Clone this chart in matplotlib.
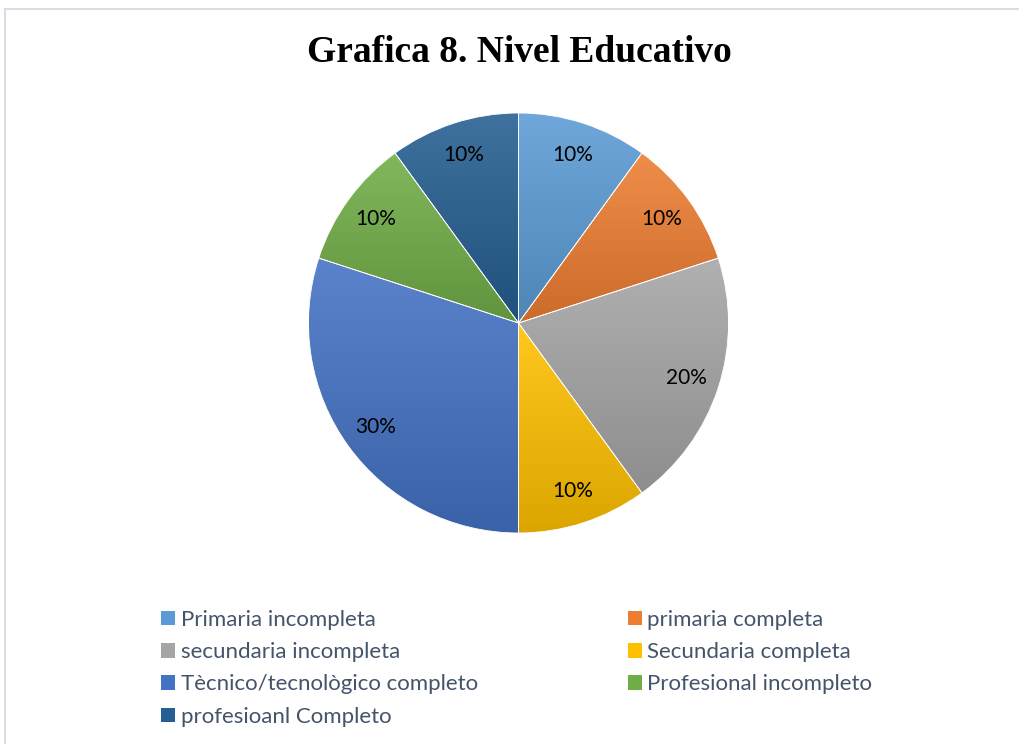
import numpy as np
import matplotlib.pyplot as plt
from matplotlib.colors import to_rgb
from matplotlib.lines import Line2D

TITLE = "Grafica 8. Nivel Educativo"
CATEGORIES = [
    "Primaria incompleta",
    "primaria completa",
    "secundaria incompleta",
    "Secundaria completa",
    "Tècnico/tecnològico completo",
    "Profesional incompleto",
    "profesioanl Completo",
]
SHARES = [10, 10, 20, 10, 30, 10, 10]
COLORS = ["#5B9BD5", "#ED7D31", "#A5A5A5", "#FFC000", "#4472C4", "#70AD47", "#255E91"]

W, H = 1019, 744
fig = plt.figure(figsize=(W / 100, H / 100), dpi=100)

# light frame: only top and left edges are visible in the crop
frame = dict(color="#D9DDE6", linewidth=1.5, transform=fig.transFigure)
fig.add_artist(Line2D([5 / W, 1.0], [1 - 9 / H] * 2, **frame))
fig.add_artist(Line2D([5 / W] * 2, [0.0, 1 - 9 / H], **frame))

fig.text(519 / W, 1 - 52 / H, TITLE, ha="center", va="center",
         fontsize=27, fontweight="bold", family="Liberation Serif")

cx, cy, r = 518.5, 323, 210
ax = fig.add_axes([(cx - r) / W, (H - cy - r) / H, 2 * r / W, 2 * r / H])
wedges, _, autotexts = ax.pie(
    SHARES, colors=COLORS, startangle=90, counterclock=False,
    autopct="%1.0f%%", pctdistance=0.84, radius=1,
    wedgeprops=dict(edgecolor="white", linewidth=0.6),
    textprops=dict(fontsize=15, color="black", family="Lato"),
)

# soft top-to-bottom shading inside each slice, like the office gradient style
for w, c in zip(wedges, COLORS):
    base = np.array(to_rgb(c))
    top = base + (1 - base) * 0.12
    bottom = base * 0.86
    t = np.linspace(0, 1, 64)[:, None]
    grad = (top[None, :] * (1 - t) + bottom[None, :] * t)[:, None, :]
    bb = w.get_path().get_extents(w.get_patch_transform())
    im = ax.imshow(grad, extent=(bb.x0, bb.x1, bb.y0, bb.y1), origin="upper",
                   aspect="auto", interpolation="bilinear", zorder=w.get_zorder() + 0.1)
    im.set_clip_path(w)
    w.set_facecolor("none")
    w.set_zorder(w.get_zorder() + 0.2)
for t in autotexts:
    t.set_zorder(5)

ax.set_xlim(-1, 1)
ax.set_ylim(-1, 1)
ax.axis("off")

# legend filled row by row, two columns
proxies = [plt.Rectangle((0, 0), 1, 1, facecolor=c, edgecolor="none") for c in COLORS]
order = [0, 2, 4, 6, 1, 3, 5]
leg = fig.legend([proxies[i] for i in order], [CATEGORIES[i] for i in order],
                 ncol=2, loc="upper left", bbox_to_anchor=(141 / W, 1 - 590 / H),
                 frameon=False, prop=dict(family="Lato", size=16),
                 handlelength=0.63, handleheight=0.63, handletextpad=0.25,
                 columnspacing=6.75, labelspacing=0.55)
for t in leg.get_texts():
    t.set_color("#44546A")

fig.savefig("out.png", dpi=100)
